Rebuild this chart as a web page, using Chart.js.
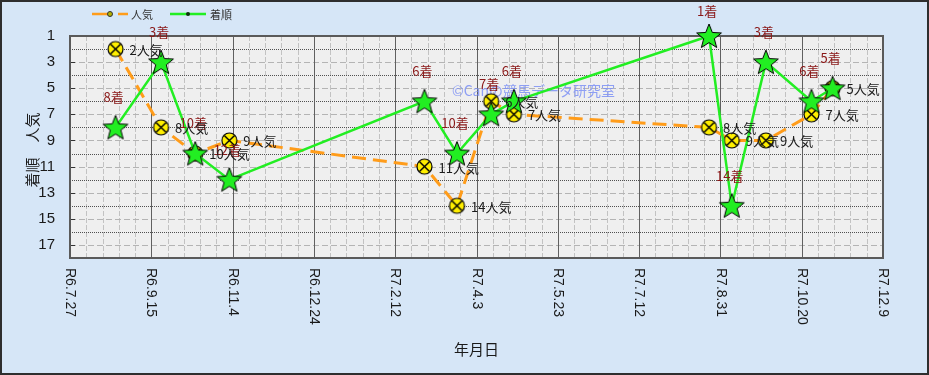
<!DOCTYPE html>
<html lang="ja">
<head>
<meta charset="utf-8">
<title>着順・人気の推移</title>
<script src="https://cdn.jsdelivr.net/npm/chart.js@4/dist/chart.umd.min.js"></script>
<style>
  html, body { margin: 0; padding: 0; background: #d6e6f7; }
  #wrap { width: 929px; height: 375px; }
</style>
</head>
<body>
<div id="wrap"><canvas id="chart" width="929" height="375"></canvas></div>
<script>
// ---- data ----
const raceDates  = ['2024-08-24', '2024-09-21', '2024-10-12', '2024-11-02', '2025-03-02', '2025-03-22', '2025-04-12',
                    '2025-04-26', '2025-08-24', '2025-09-07', '2025-09-28', '2025-10-26', '2025-11-08'];
const popularity = [2, 8, 10, 9, 11, 14, 6, 7, 8, 9, 9, 7, 5];
const finish     = [8, 3, 10, 12, 6, 10, 7, 6, 1, 14, 3, 6, 5];
const xTickDates  = ['2024-07-27', '2024-09-15', '2024-11-04', '2024-12-24', '2025-02-12', '2025-04-03',
                     '2025-05-23', '2025-07-12', '2025-08-31', '2025-10-20', '2025-12-09'];
const xTickLabels = ['R6.7.27', 'R6.9.15', 'R6.11.4', 'R6.12.24', 'R7.2.12', 'R7.4.3',
                     'R7.5.23', 'R7.7.12', 'R7.8.31', 'R7.10.20', 'R7.12.9'];

// days counted from the first axis date
const DAY = 86400000;
function toUTC(s) { const [y, m, d] = s.split('-').map(Number); return Date.UTC(y, m - 1, d); }
const origin = toUTC(xTickDates[0]);
const dayOf = s => Math.round((toUTC(s) - origin) / DAY);

const popPoints    = raceDates.map((d, i) => ({ x: dayOf(d), y: popularity[i] }));
const finishPoints = raceDates.map((d, i) => ({ x: dayOf(d), y: finish[i] }));

// ---- colours & fonts ----
const ORANGE = '#ff9c1a';
const GREEN  = '#22ee22';
const MAROON = '#8a1818';
const JP = '"Noto Sans CJK JP", "Noto Sans", sans-serif';
const LAT = '"Liberation Sans", Arial, sans-serif';

// ---- marker images ----
function makeStar(outer, inner) {
  const c = document.createElement('canvas');
  const s = Math.ceil(outer * 2 + 4);
  c.width = s; c.height = s;
  const g = c.getContext('2d');
  g.translate(s / 2, s / 2 + 1);
  g.beginPath();
  for (let k = 0; k < 10; k++) {
    const r = k % 2 === 0 ? outer : inner;
    const a = -Math.PI / 2 + k * Math.PI / 5;
    const px = r * Math.cos(a), py = r * Math.sin(a);
    k === 0 ? g.moveTo(px, py) : g.lineTo(px, py);
  }
  g.closePath();
  g.fillStyle = GREEN; g.fill();
  g.lineWidth = 1; g.strokeStyle = '#000'; g.stroke();
  return c;
}
function makeCrossCircle(r) {
  const c = document.createElement('canvas');
  const s = Math.ceil(r * 2 + 4);
  c.width = s; c.height = s;
  const g = c.getContext('2d');
  g.translate(s / 2, s / 2);
  g.beginPath(); g.arc(0, 0, r, 0, Math.PI * 2);
  g.fillStyle = '#ffef00'; g.fill();
  g.lineWidth = 1.2; g.strokeStyle = '#000'; g.stroke();
  const q = r * 0.68;
  g.beginPath();
  g.moveTo(-q, -q); g.lineTo(q, q);
  g.moveTo(q, -q); g.lineTo(-q, q);
  g.lineWidth = 1.4; g.stroke();
  return c;
}
const starImg = makeStar(13, 5.6);
const circleImg = makeCrossCircle(7.5);

// ---- plugins ----
const backdrop = {
  id: 'backdrop',
  beforeDraw(chart) {
    const { ctx, chartArea: a } = chart;
    ctx.save();
    ctx.fillStyle = '#d6e6f7';
    ctx.fillRect(0, 0, chart.width, chart.height);
    ctx.fillStyle = '#efefef';
    ctx.fillRect(a.left, a.top, a.right - a.left, a.bottom - a.top);
    ctx.restore();
  }
};

const gridLines = {
  id: 'gridLines',
  beforeDatasetsDraw(chart) {
    const { ctx, chartArea: a, scales: { x, y } } = chart;
    ctx.save();
    ctx.lineWidth = 1;
    // vertical rules: every 10 days, heavier at the dated ticks
    for (let d = 10; d < x.max; d += 10) {
      const px = Math.round(x.getPixelForValue(d)) + 0.5;
      if (d % 50 === 0) continue;
      ctx.strokeStyle = '#c2c2c2'; ctx.setLineDash([5, 2]);
      ctx.beginPath(); ctx.moveTo(px, a.top); ctx.lineTo(px, a.bottom); ctx.stroke();
    }
    // horizontal rules
    for (let v = 2; v < 18; v++) {
      const py = Math.round(y.getPixelForValue(v)) + 0.5;
      if (v % 2 === 0) { ctx.strokeStyle = '#505050'; ctx.setLineDash([1, 1]); }
      else { ctx.strokeStyle = '#b4b4b4'; ctx.setLineDash([6, 3]); }
      ctx.beginPath(); ctx.moveTo(a.left, py); ctx.lineTo(a.right, py); ctx.stroke();
    }
    ctx.setLineDash([]);
    ctx.strokeStyle = '#606060';
    for (let d = 50; d < x.max; d += 50) {
      const px = Math.round(x.getPixelForValue(d)) + 0.5;
      ctx.beginPath(); ctx.moveTo(px, a.top); ctx.lineTo(px, a.bottom); ctx.stroke();
    }
    // short inner ticks on the left edge
    ctx.strokeStyle = '#333';
    for (let v = 1; v < 18; v += 2) {
      const py = Math.round(y.getPixelForValue(v)) + 0.5;
      ctx.beginPath(); ctx.moveTo(a.left, py); ctx.lineTo(a.left + 5, py); ctx.stroke();
    }
    // plot frame
    ctx.strokeStyle = '#5a5a5a';
    ctx.lineWidth = 2;
    ctx.strokeRect(a.left, a.top, a.right - a.left, a.bottom - a.top);
    // watermark
    ctx.font = '14px ' + JP;
    ctx.fillStyle = 'rgba(125,145,245,0.85)';
    ctx.textAlign = 'left';
    ctx.textBaseline = 'middle';
    ctx.fillText('©Canの競馬データ研究室', 452, 91);
    ctx.restore();
  }
};

const pointLabels = {
  id: 'pointLabels',
  afterDatasetsDraw(chart) {
    const { ctx } = chart;
    ctx.save();
    ctx.font = '13px ' + JP;
    ctx.textBaseline = 'middle';
    chart.data.datasets.forEach((ds, i) => {
      const meta = chart.getDatasetMeta(i);
      meta.data.forEach((el, j) => {
        const v = ds.data[j].y;
        if (ds.label === '人気') {
          ctx.fillStyle = '#1a1a1a';
          ctx.textAlign = 'left';
          ctx.fillText(v + '人気', el.x + 14, el.y + 1);
        } else {
          ctx.fillStyle = MAROON;
          ctx.textAlign = 'center';
          ctx.fillText(v + '着', el.x - 2, Math.max(el.y - 30, 11));
        }
      });
    });
    ctx.restore();
  }
};

const frameText = {
  id: 'frameText',
  afterDraw(chart) {
    const { ctx, chartArea: a, scales: { x } } = chart;
    ctx.save();
    // date labels, turned to read downward
    ctx.font = '14px ' + LAT;
    ctx.fillStyle = '#1a1a1a';
    ctx.textAlign = 'left';
    ctx.textBaseline = 'middle';
    xTickDates.forEach((d, i) => {
      const px = x.getPixelForValue(dayOf(d));
      ctx.save();
      ctx.translate(px, a.bottom + 10);
      ctx.rotate(Math.PI / 2);
      ctx.fillText(xTickLabels[i], 0, 0);
      ctx.restore();
    });
    // axis titles
    ctx.font = '15px ' + JP;
    ctx.textAlign = 'center';
    ctx.fillText('年月日', (a.left + a.right) / 2, 349);
    ctx.save();
    ctx.translate(32, 150);
    ctx.rotate(-Math.PI / 2);
    ctx.fillText('着順　人気', 0, 0);
    ctx.restore();
    // legend
    const ly = 14;
    ctx.lineWidth = 2.5;
    ctx.strokeStyle = ORANGE;
    ctx.setLineDash([20, 6]);
    ctx.beginPath(); ctx.moveTo(92, ly); ctx.lineTo(128, ly); ctx.stroke();
    ctx.setLineDash([]);
    ctx.beginPath(); ctx.arc(110, ly, 2.5, 0, Math.PI * 2);
    ctx.fillStyle = '#b5b000'; ctx.fill();
    ctx.lineWidth = 1; ctx.strokeStyle = '#333'; ctx.stroke();
    ctx.lineWidth = 2.5;
    ctx.strokeStyle = GREEN;
    ctx.beginPath(); ctx.moveTo(170, ly); ctx.lineTo(206, ly); ctx.stroke();
    ctx.beginPath(); ctx.arc(188, ly, 2, 0, Math.PI * 2);
    ctx.fillStyle = '#103010'; ctx.fill();
    ctx.font = '11px ' + JP;
    ctx.fillStyle = '#333';
    ctx.textAlign = 'left';
    ctx.fillText('人気', 131, ly + 1);
    ctx.fillText('着順', 210, ly + 1);
    // outer frame
    ctx.lineWidth = 2;
    ctx.strokeStyle = '#2e2e2e';
    ctx.strokeRect(1, 1, chart.width - 2, chart.height - 2);
    ctx.restore();
  }
};

new Chart(document.getElementById('chart'), {
  type: 'line',
  data: {
    datasets: [
      {
        label: '着順',
        data: finishPoints,
        order: 0,
        borderColor: GREEN,
        borderWidth: 2.5,
        pointStyle: starImg,
        pointRadius: 13,
        tension: 0,
        clip: false
      },
      {
        label: '人気',
        data: popPoints,
        order: 1,
        borderColor: ORANGE,
        borderWidth: 3,
        borderDash: [14, 7],
        pointStyle: circleImg,
        pointRadius: 8,
        tension: 0,
        clip: false
      }
    ]
  },
  options: {
    responsive: false,
    animation: false,
    devicePixelRatio: 1,
    layout: { padding: { left: 0, top: 36, right: 46, bottom: 0 } },
    plugins: { legend: { display: false }, tooltip: { enabled: false } },
    scales: {
      x: {
        type: 'linear',
        min: 0,
        max: dayOf(xTickDates[xTickDates.length - 1]),
        ticks: { display: false },
        grid: { display: false, drawTicks: false },
        border: { display: false },
        afterFit(s) { s.height = 117; }
      },
      y: {
        type: 'linear',
        reverse: true,
        min: 1,
        max: 18,
        ticks: {
          stepSize: 1,
          autoSkip: false,
          padding: 15,
          color: '#1a1a1a',
          font: { family: LAT, size: 15 },
          callback: v => (v % 2 === 1 ? v : '')
        },
        grid: { display: false, drawTicks: false },
        border: { display: false },
        afterFit(s) { s.width = 70; }
      }
    }
  },
  plugins: [backdrop, gridLines, pointLabels, frameText]
});
</script>
</body>
</html>
